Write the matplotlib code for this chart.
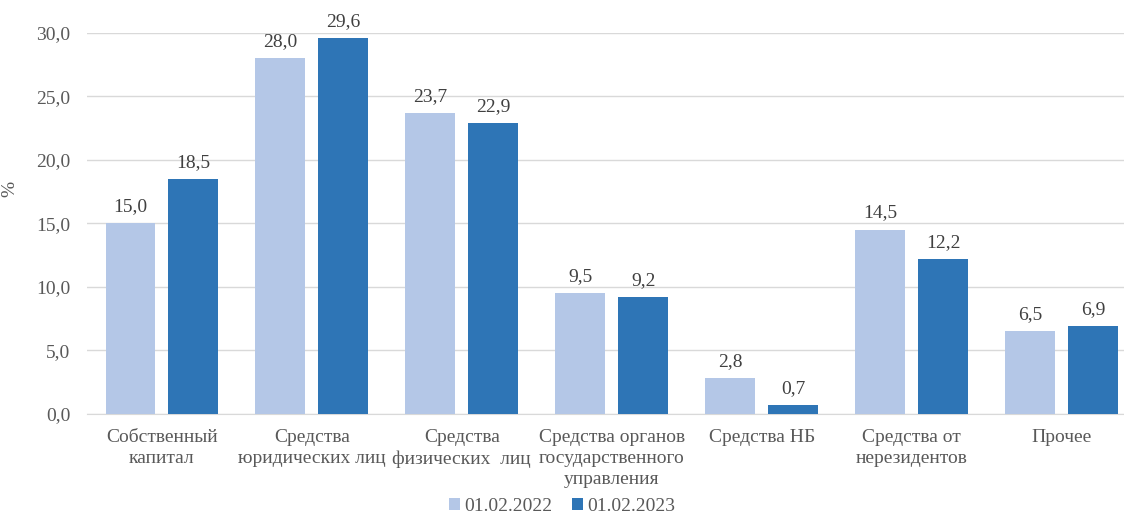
import numpy as np
import matplotlib.pyplot as plt

plt.rcParams['font.family'] = ['Liberation Serif', 'DejaVu Serif']

# Data
categories = ['Собственный\nкапитал', 'Средства\nюридических лиц', 'Средства\nфизических  лиц',
              'Средства органов\nгосударственного\nуправления', 'Средства НБ',
              'Средства от\nнерезидентов', 'Прочее']
vals_2022 = [15.0, 28.0, 23.7, 9.5, 2.8, 14.5, 6.5]
vals_2023 = [18.5, 29.6, 22.9, 9.2, 0.7, 12.2, 6.9]
labels = ['01.02.2022', '01.02.2023']

c_light = '#b4c7e7'
c_dark = '#2e75b6'
txt = '#595959'
fs = 14

fig = plt.figure(figsize=(11.24, 5.18), dpi=100)
ax = fig.add_axes([87 / 1124, 0.2008, 1 - 87 / 1124, 0.7355])

x = np.arange(len(categories))
w = 0.333
off = 0.21
b1 = ax.bar(x - off, vals_2022, w, color=c_light, label=labels[0], zorder=3)
b2 = ax.bar(x + off, vals_2023, w, color=c_dark, label=labels[1], zorder=3)

for bars in (b1, b2):
    for b in bars:
        h = b.get_height()
        ax.annotate(f'{h:.1f}'.replace('.', ','), (b.get_x() + b.get_width() / 2, h),
                    xytext=(0, 6), textcoords='offset points', ha='center', va='bottom',
                    fontsize=fs, color='#404040')

ax.set_xlim(-0.5, 6.417)
ax.set_ylim(0, 30)
ax.set_yticks(np.arange(0, 30.1, 5))
ax.set_yticklabels([f'{v:.1f}'.replace('.', ',') for v in np.arange(0, 30.1, 5)])
ax.set_xticks(x)
ax.set_xticklabels(categories, linespacing=1.3)
ax.tick_params(axis='both', length=0, labelsize=fs, labelcolor=txt)
ax.tick_params(axis='x', pad=11)
ax.tick_params(axis='y', pad=12)
ax.grid(axis='y', color='#d9d9d9', linewidth=1, zorder=0)
for s in ['top', 'right', 'left']:
    ax.spines[s].set_visible(False)
ax.spines['bottom'].set_color('#d9d9d9')
ax.set_ylabel('%', color=txt, fontsize=fs)
ax.yaxis.set_label_coords(-0.066, 0.59)

fig.legend(loc='lower center', bbox_to_anchor=(0.5, -0.028), ncol=2, frameon=False,
           fontsize=fs, labelcolor=txt, handlelength=0.6, handleheight=0.6,
           handletextpad=0.2, columnspacing=1.0)

plt.savefig('out.png', dpi=100)
